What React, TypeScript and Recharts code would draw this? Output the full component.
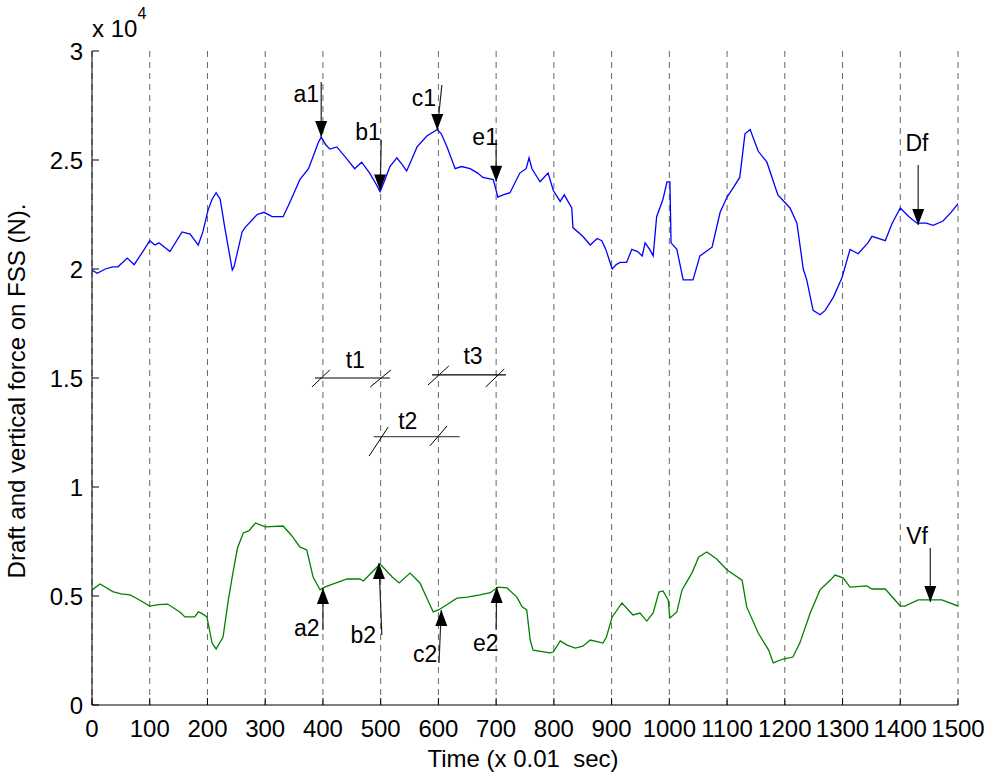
import {
  CartesianGrid,
  Label,
  Line,
  LineChart,
  ReferenceDot,
  ReferenceLine,
  XAxis,
  YAxis,
} from "recharts";

const FONT = "'Liberation Sans', Arial, Helvetica, sans-serif";

// time axis in units of 0.01 s, forces in N
const xTicks = [0, 100, 200, 300, 400, 500, 600, 700, 800, 900, 1000, 1100, 1200, 1300, 1400, 1500];
const yTicks = [0, 5000, 10000, 15000, 20000, 25000, 30000];

// Df (draft force), blue
const dfTime = [
  0, 9, 23, 36, 45, 61, 73, 88, 100, 109, 116, 135, 156, 170, 184, 192, 201, 208, 215, 222,
  230, 243, 246, 260, 265, 286, 298, 312, 331, 340, 350, 360, 375, 385, 392, 397, 405, 412, 424, 440,
  455, 467, 481, 492, 499, 506, 516, 528, 537, 545, 555, 563, 580, 598, 605, 615, 629, 640, 655, 668,
  677, 695, 703, 712, 724, 741, 752, 757, 762, 776, 790, 799, 811, 818, 831, 833, 850, 863, 875, 883,
  890, 901, 908, 915, 926, 935, 945, 953, 958, 966, 972, 978, 989, 996, 1001, 1003, 1013, 1024, 1041, 1053,
  1074, 1088, 1100, 1110, 1122, 1131, 1140, 1154, 1169, 1188, 1209, 1221, 1232, 1238, 1249, 1261, 1270, 1284, 1299, 1313,
  1327, 1344, 1351, 1374, 1386, 1400, 1415, 1429, 1445, 1457, 1474, 1488, 1500,
];
const dfForce = [
  19950, 19800, 20000, 20100, 20100, 20500, 20200, 20800, 21300, 21100, 21200, 20800, 21700, 21600, 21100, 21700, 22700, 23200, 23500, 23200,
  21900, 19950, 20100, 21700, 21900, 22500, 22600, 22400, 22400, 22900, 23500, 24100, 24600, 25300, 25800, 26050, 25700, 25500, 25600, 25100,
  24600, 24900, 24400, 23900, 23550, 24000, 24700, 25100, 24800, 24500, 25100, 25600, 26100, 26400, 26200, 25600, 24600, 24700, 24600, 24400,
  24200, 24100, 23300, 23400, 23500, 24400, 24600, 25100, 24600, 24000, 24400, 23600, 23100, 23400, 22800, 21900, 21500, 21100, 21400, 21300,
  20900, 20000, 20200, 20300, 20300, 20900, 20800, 20600, 21200, 20900, 20600, 22400, 23200, 24000, 24000, 21200, 20900, 19500, 19500, 20600,
  21000, 22600, 23300, 23700, 24200, 26200, 26400, 25400, 24900, 23400, 22800, 22100, 20000, 19500, 18100, 17900, 18100, 18700, 19600, 20900,
  20700, 21200, 21500, 21300, 22100, 22800, 22400, 22100, 22100, 22000, 22200, 22600, 23000,
];

// Vf (vertical force), green
const vfTime = [
  0, 14, 36, 50, 66, 80, 100, 115, 131, 152, 161, 178, 184, 190, 199, 208, 215, 227, 236, 244,
  252, 262, 272, 283, 300, 331, 345, 360, 372, 383, 395, 400, 412, 442, 464, 470, 499, 520, 532, 551,
  568, 591, 600, 614, 632, 650, 672, 690, 703, 719, 736, 745, 753, 759, 764, 780, 793, 799, 811, 823,
  837, 850, 863, 885, 891, 901, 918, 937, 949, 961, 972, 982, 989, 998, 1001, 1013, 1022, 1039, 1051, 1065,
  1082, 1100, 1126, 1134, 1154, 1172, 1180, 1197, 1214, 1226, 1244, 1261, 1279, 1287, 1301, 1313, 1342, 1351, 1374, 1400,
  1408, 1431, 1472, 1500,
];
const vfForce = [
  5280, 5550, 5200, 5100, 5050, 4850, 4540, 4600, 4630, 4270, 4040, 4040, 4270, 4200, 4040, 2840, 2570, 3120, 4800, 6050,
  7200, 7890, 8000, 8350, 8170, 8210, 7800, 7250, 7110, 5870, 5280, 5370, 5500, 5780, 5780, 5690, 6470, 5870, 5600, 6050,
  5600, 4270, 4360, 4590, 4900, 4950, 5050, 5150, 5410, 5370, 4950, 4500, 4360, 2980, 2520, 2450, 2390, 2430, 2940, 2750,
  2610, 2700, 2980, 2840, 3120, 4040, 4680, 4130, 4220, 3850, 4220, 5180, 5230, 4820, 3990, 4270, 5280, 6050, 6790, 7020,
  6700, 6190, 5730, 4500, 3300, 2520, 1930, 2110, 2200, 2840, 4220, 5280, 5730, 5960, 5830, 5410, 5460, 5320, 5320, 4540,
  4540, 4820, 4820, 4540,
];

// arrows: shaft start (x1,y1) -> tip (x2,y2)
const arrowNames = ["a1", "b1", "c1", "e1", "Df", "a2", "b2", "c2", "e2", "Vf"];
const arrowX1 = [397, 501, 606, 700, 1431, 400, 502, 601, 700, 1452];
const arrowY1 = [28580, 25920, 28440, 25920, 24770, 3440, 3210, 1930, 3440, 7200];
const arrowX2 = [397, 499, 598, 700, 1431, 400, 497, 605, 701, 1452];
const arrowY2 = [26050, 23600, 26380, 24000, 22020, 5370, 6510, 4360, 5410, 4720];
const labelX = [371, 478, 575, 681, 1429, 372, 470, 577, 682, 1429];
const labelY = [27660, 25920, 27480, 25690, 25410, 3170, 2840, 1970, 2480, 7390];

// interval marks t1..t3
const spanNames = ["t1", "t3", "t2"];
const spanStart = [386, 589, 488];
const spanEnd = [516, 717, 637];
const spanLevel = [15000, 15140, 12310];
const spanLabelX = [456, 660, 547];
const spanLabelY = [15460, 15640, 12660];
const tickMarks = [
  [381, 14590, 412, 15370],
  [482, 14590, 518, 15370],
  [582, 14680, 618, 15550],
  [682, 14590, 714, 15410],
  [480, 11420, 513, 12750],
  [585, 11880, 615, 12800],
];

const dfData = dfTime.map((t, i) => ({ t, v: dfForce[i] }));
const vfData = vfTime.map((t, i) => ({ t, v: vfForce[i] }));

const headShape = (up: boolean) => (p: any) => {
  const d = up ? 16 : -16;
  return (
    <path
      d={`M${p.cx},${p.cy} L${p.cx - 6},${p.cy + d} L${p.cx + 6},${p.cy + d} Z`}
      fill="#000"
    />
  );
};

const textShape = (s: string) => (p: any) => (
  <text x={p.cx} y={p.cy} textAnchor="middle" fontSize={23} fontFamily={FONT} fill="#000">
    {s}
  </text>
);

const YTitle = (props: any) => {
  const vb = props.viewBox;
  const cy = vb.y + vb.height / 2 + 13;
  return (
    <text
      x={25}
      y={cy}
      transform={`rotate(-90 25 ${cy})`}
      textAnchor="middle"
      fontSize={24}
      fontFamily={FONT}
      fill="#000"
    >
      Draft and vertical force on FSS (N).
    </text>
  );
};

const Multiplier = (props: any) => {
  const vb = props.viewBox;
  return (
    <text x={vb.x + vb.width} y={vb.y - 14} fontSize={24} fontFamily={FONT} fill="#000">
      x 10
      <tspan dy={-18} fontSize={16}>
        4
      </tspan>
    </text>
  );
};

const XTitle = (props: any) => {
  const vb = props.viewBox;
  return (
    <text
      x={vb.x + vb.width / 2 - 2}
      y={vb.y + 62}
      textAnchor="middle"
      fontSize={24}
      fontFamily={FONT}
      fill="#000"
    >
      {"Time (x 0.01\u00a0 sec)"}
    </text>
  );
};

const tickStyle = { fill: "#000", fontSize: 24, fontFamily: FONT };

export default function App() {
  return (
    <div style={{ position: "absolute", left: 0, top: 0, background: "#fff" }}>
      <LineChart width={991} height={778} margin={{ top: 51, right: 33, bottom: 0, left: 0 }}>
        <CartesianGrid horizontal={false} stroke="#666" strokeDasharray="6 5" />
        <XAxis
          dataKey="t"
          type="number"
          domain={[0, 1500]}
          ticks={xTicks}
          interval={0}
          height={73}
          allowDataOverflow
          stroke="#000"
          tickSize={-7}
          tickMargin={22}
          tick={tickStyle}
        >
          <Label content={XTitle} />
        </XAxis>
        <XAxis
          xAxisId="top"
          orientation="top"
          type="number"
          domain={[0, 1500]}
          ticks={xTicks}
          height={0}
          allowDataOverflow
          stroke="#000"
          tickSize={-7}
          tick={false}
        />
        <YAxis
          type="number"
          domain={[0, 30000]}
          ticks={yTicks}
          interval={0}
          width={92}
          allowDataOverflow
          stroke="#000"
          tickSize={-7}
          tickMargin={16}
          tick={tickStyle}
          tickFormatter={(v: number) => String(v / 10000)}
        >
          <Label content={YTitle} />
          <Label content={Multiplier} />
        </YAxis>
        <YAxis
          yAxisId="right"
          orientation="right"
          type="number"
          domain={[0, 30000]}
          ticks={yTicks}
          width={0}
          allowDataOverflow
          stroke="#000"
          tickSize={-7}
          tick={false}
        />
        <Line
          data={dfData}
          dataKey="v"
          type="linear"
          stroke="#0000ff"
          strokeWidth={1.3}
          dot={false}
          activeDot={false}
          isAnimationActive={false}
        />
        <Line
          data={vfData}
          dataKey="v"
          type="linear"
          stroke="#008000"
          strokeWidth={1.3}
          dot={false}
          activeDot={false}
          isAnimationActive={false}
        />
        {arrowNames.map((n, i) => (
          <ReferenceLine
            key={`s${n}`}
            segment={[
              { x: arrowX1[i], y: arrowY1[i] },
              { x: arrowX2[i], y: arrowY2[i] },
            ]}
            stroke="#222"
            strokeWidth={1.2}
          />
        ))}
        {arrowNames.map((n, i) => (
          <ReferenceDot
            key={`h${n}`}
            x={arrowX2[i]}
            y={arrowY2[i]}
            r={0}
            shape={headShape(arrowY2[i] > arrowY1[i])}
          />
        ))}
        {arrowNames.map((n, i) => (
          <ReferenceDot key={`l${n}`} x={labelX[i]} y={labelY[i]} r={0} shape={textShape(n)} />
        ))}
        {spanNames.map((n, i) => (
          <ReferenceLine
            key={`p${n}`}
            segment={[
              { x: spanStart[i], y: spanLevel[i] },
              { x: spanEnd[i], y: spanLevel[i] },
            ]}
            stroke={n === "t2" ? "#555" : "#000"}
            strokeWidth={1.2}
          />
        ))}
        {tickMarks.map((m, i) => (
          <ReferenceLine
            key={`m${i}`}
            segment={[
              { x: m[0], y: m[1] },
              { x: m[2], y: m[3] },
            ]}
            stroke="#000"
            strokeWidth={1}
          />
        ))}
        {spanNames.map((n, i) => (
          <ReferenceDot key={`q${n}`} x={spanLabelX[i]} y={spanLabelY[i]} r={0} shape={textShape(n)} />
        ))}
      </LineChart>
    </div>
  );
}
